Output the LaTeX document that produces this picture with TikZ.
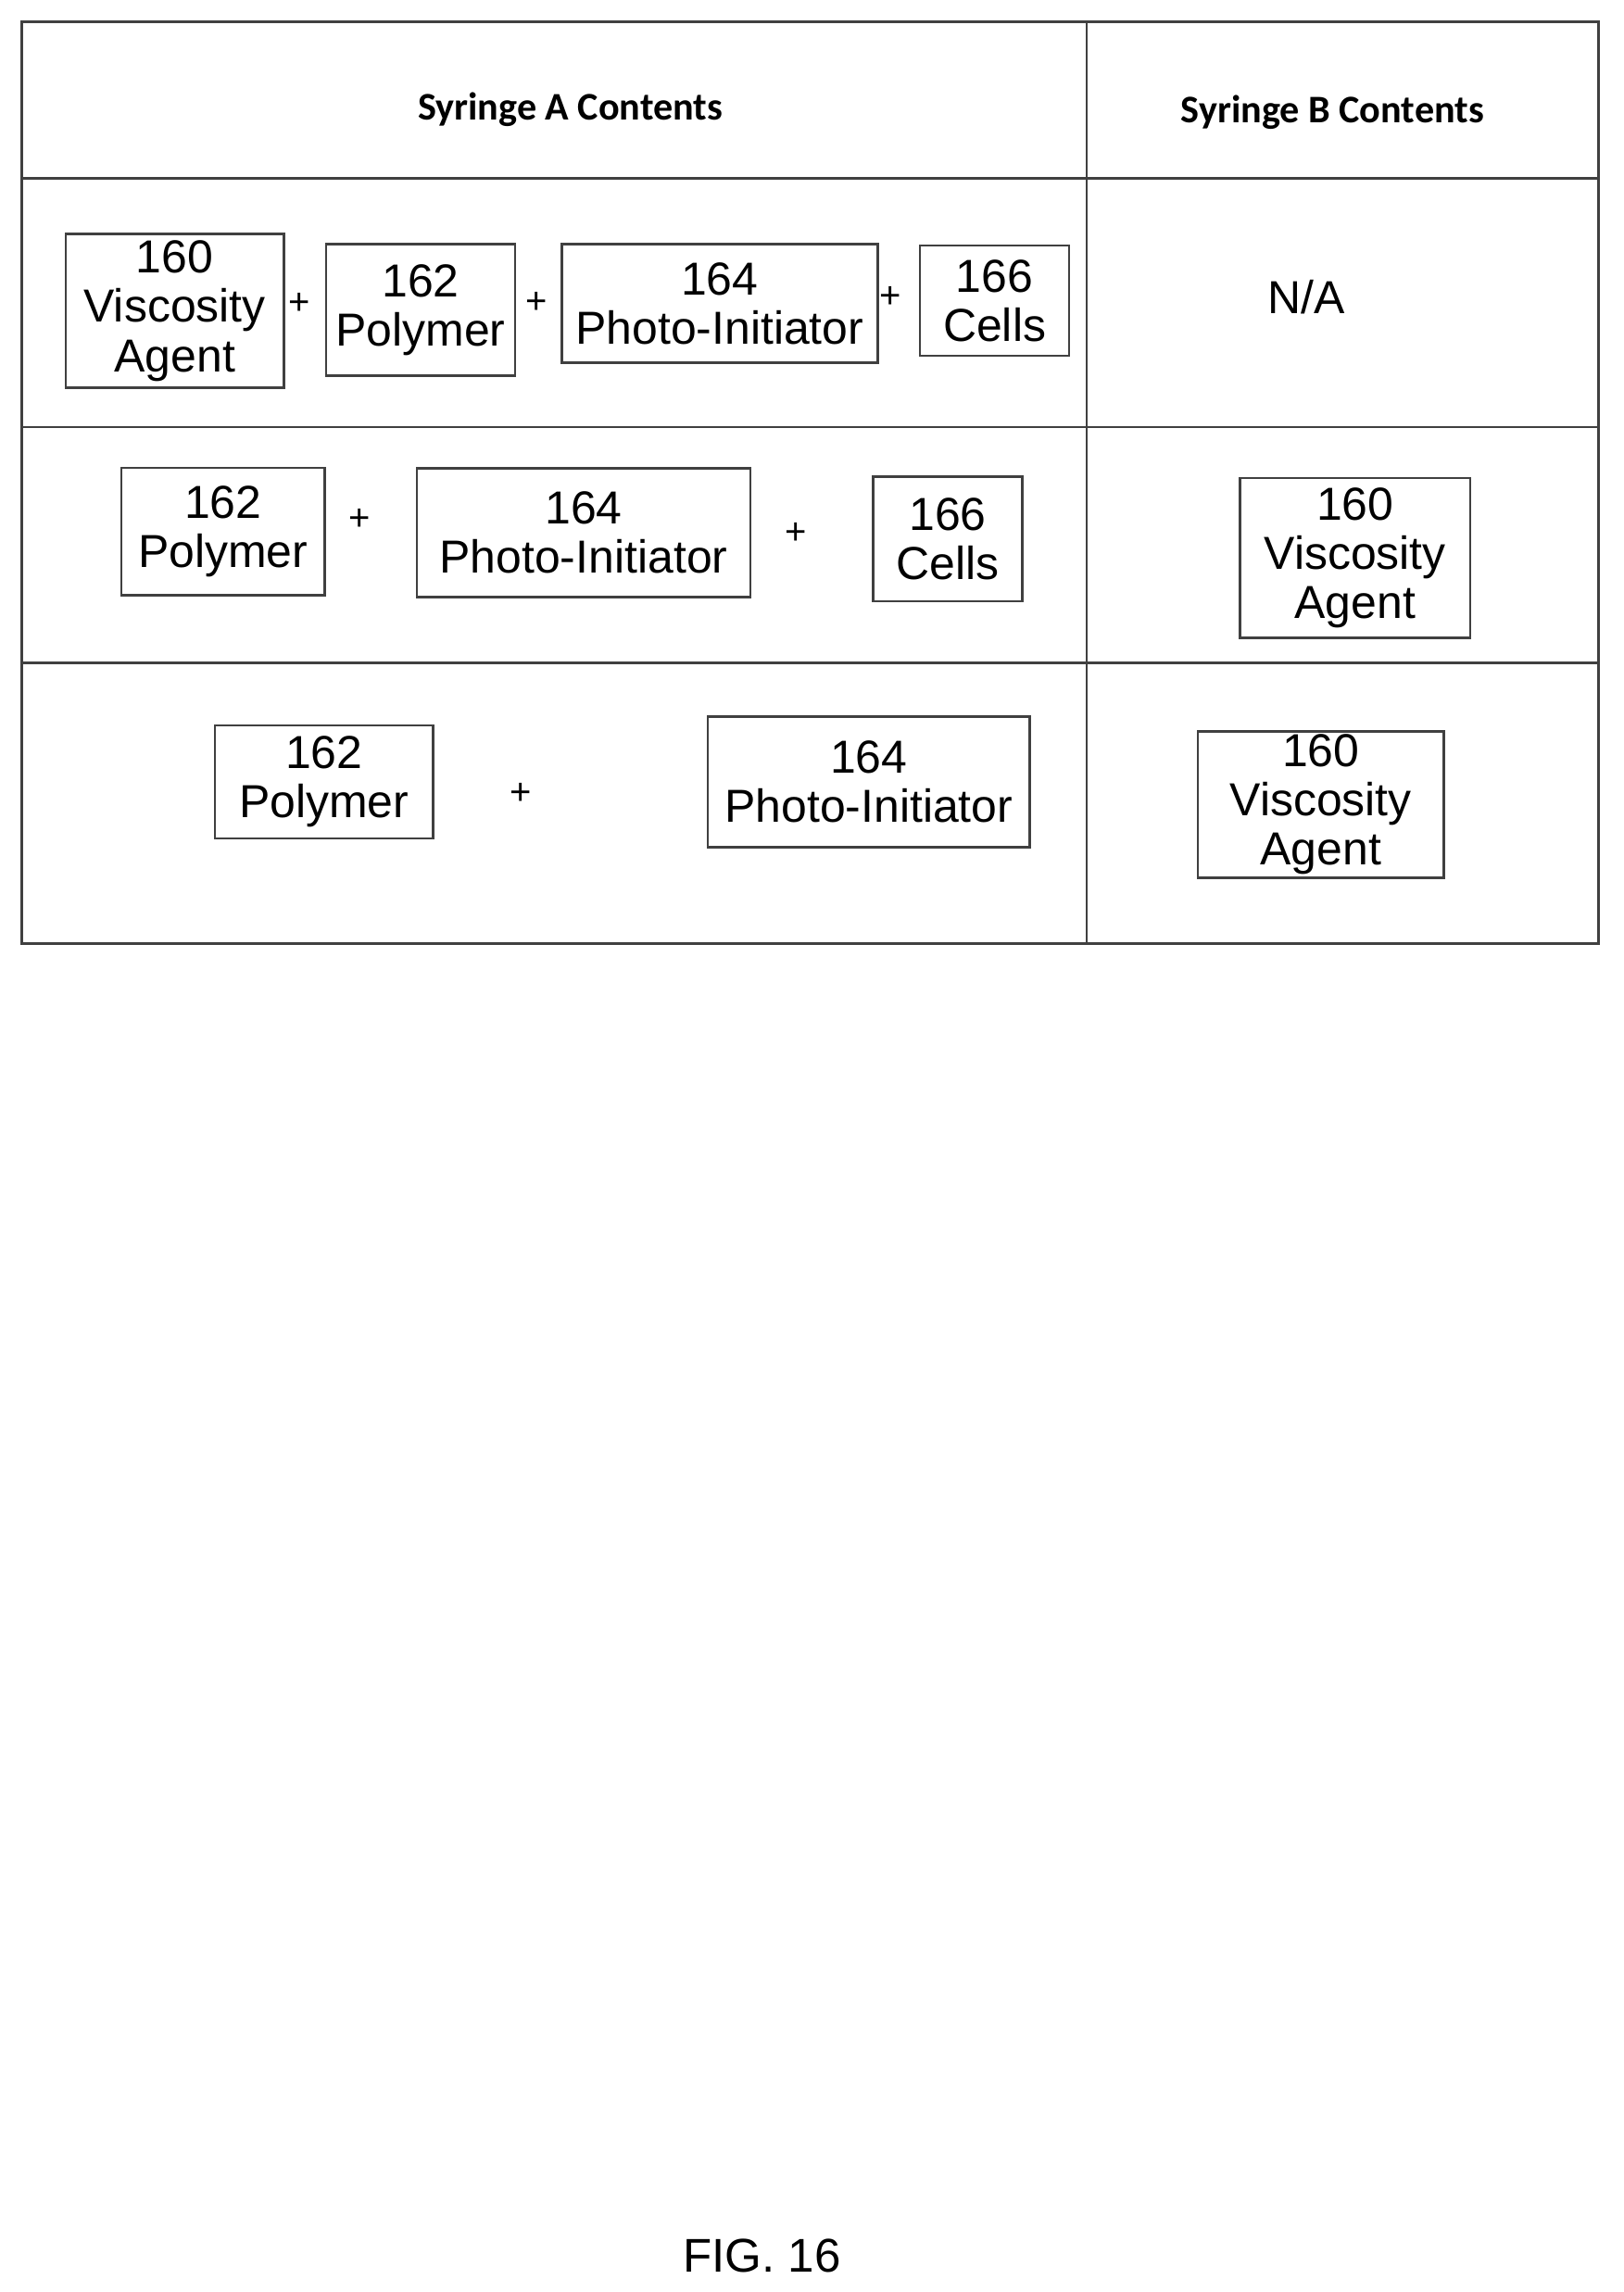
\documentclass[tikz,border=0pt]{standalone}
\usepackage{fontspec}
\setmainfont{Liberation Sans}
\newfontfamily\headfont{Carlito}
\usetikzlibrary{positioning}

\begin{document}
\begin{tikzpicture}[x=0.025cm, y=-0.025cm,
                    grid/.style = {draw=black!75, line width=1.2pt},
                    item/.style = {draw=black!75, line width=1.2pt, align=center, inner sep=0pt,
                                   font=\fontsize{22.5}{24}\selectfont},
                    plus/.style = {font=\fontsize{18}{20}\selectfont},
                    head/.style = {font=\headfont\bfseries\fontsize{19}{21}\selectfont}
                    ]
\useasboundingbox (0,0) rectangle (1110,1567);

% table frame
\draw[grid] (15,15) rectangle (1093,645);
\draw[grid] (743,15) -- (743,645);
\foreach \y in {122,292,453}
  \draw[grid] (15,\y) -- (1093,\y);

\node[head] (headA) at (390,75) {Syringe A Contents};
\node[head] (headB) at (911,77) {Syringe B Contents};

% row 1
\node[item, minimum width=3.73cm, minimum height=2.63cm] (va1) at (119.5,212.5) {160\\Viscosity\\Agent};
\node[plus] (p11) at (205,208) {+};
\node[item, minimum width=3.23cm, minimum height=2.25cm] (po1) at (287.5,212) {162\\Polymer};
\node[plus] (p12) at (367,207) {+};
\node[item, minimum width=5.4cm, minimum height=2.03cm] (pi1) at (492,207.5) {164\\Photo-Initiator};
\node[plus] (p13) at (609,203) {+};
\node[item, minimum width=2.55cm, minimum height=1.88cm] (ce1) at (680,205.5) {166\\Cells};
\node[item, draw=none] (na1) at (893,203) {N/A};

% row 2
\node[item, minimum width=3.48cm, minimum height=2.18cm] (po2) at (152.5,363.5) {162\\Polymer};
\node[plus] (p21) at (246,355) {+};
\node[item, minimum width=5.7cm, minimum height=2.2cm] (pi2) at (399,364) {164\\Photo-Initiator};
\node[plus] (p22) at (544,365) {+};
\node[item, minimum width=2.55cm, minimum height=2.13cm] (ce2) at (648,368.5) {166\\Cells};
\node[item, minimum width=3.93cm, minimum height=2.73cm] (va2) at (926.5,381.5) {160\\Viscosity\\Agent};

% row 3
\node[item, minimum width=3.73cm, minimum height=1.93cm] (po3) at (221.5,534.5) {162\\Polymer};
\node[plus] (p31) at (356,543) {+};
\node[item, minimum width=5.5cm, minimum height=2.23cm] (pi3) at (594,534.5) {164\\Photo-Initiator};
\node[item, minimum width=4.2cm, minimum height=2.5cm] (va3) at (903,550) {160\\Viscosity\\Agent};

\node[font=\fontsize{23}{25}\selectfont] (fig) at (521,1542) {FIG. 16};
\end{tikzpicture}
\end{document}
